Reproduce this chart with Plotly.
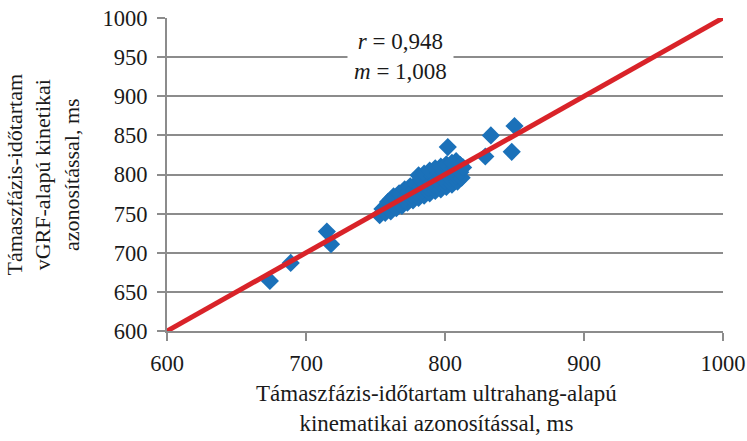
import plotly.graph_objects as go

# Data
x_vals = [674, 689, 715, 718, 829, 833, 848, 850, 802, 808,
          753, 755, 757, 758, 759, 761, 762, 761, 763,
          765, 766, 764, 767, 769, 770, 768, 771,
          773, 772, 774, 775, 777, 776, 778, 779,
          781, 780, 782, 783, 781, 785, 784, 786, 787, 785,
          789, 788, 790, 791, 789, 793, 792, 794, 795, 793,
          797, 796, 798, 799, 797, 801, 800, 802, 803, 801,
          805, 804, 806, 807, 805, 809, 808, 810, 811, 812, 811, 813]
y_vals = [664, 687, 727, 711, 823, 850, 829, 862, 835, 817,
          748, 756, 751, 759, 765, 753, 761, 768, 772,
          757, 764, 770, 776, 760, 767, 774, 781,
          764, 771, 778, 785, 767, 774, 781, 788,
          770, 777, 785, 792, 799, 773, 780, 787, 795, 801,
          776, 783, 790, 798, 805, 779, 786, 793, 801, 808,
          781, 789, 796, 803, 810, 784, 791, 799, 806, 813,
          787, 795, 802, 809, 815, 791, 798, 805, 812, 796, 803, 809]
line_x = [600, 1000]
line_y = [600, 1000]
x_ticks = [600, 700, 800, 900, 1000]
y_ticks = [600, 650, 700, 750, 800, 850, 900, 950, 1000]

FONT = "Liberation Serif, Times New Roman, serif"
GRID = "#8c8c8c"
TXT = "#1a1a1a"
tickfont = dict(family=FONT, size=22.5, color=TXT)

fig = go.Figure()
fig.add_trace(go.Scatter(
    x=x_vals, y=y_vals, mode="markers",
    marker=dict(symbol="diamond", size=14, color="#1b71b9", line=dict(width=0)),
    showlegend=False, hoverinfo="skip"))
fig.add_trace(go.Scatter(
    x=line_x, y=line_y, mode="lines",
    line=dict(color="#d92329", width=5),
    showlegend=False, hoverinfo="skip"))

fig.update_layout(
    width=747, height=441,
    margin=dict(l=167, r=24, t=18, b=110),
    paper_bgcolor="white", plot_bgcolor="white",
    font=dict(family=FONT, size=23, color=TXT),
    xaxis=dict(range=[600, 1000], tickvals=x_ticks, showgrid=False,
               zeroline=False, showline=True, linecolor=GRID, linewidth=2,
               ticks="outside", ticklen=8, tickwidth=2, tickcolor=GRID,
               tickfont=tickfont, automargin=False,
               ticklabelstandoff=3, fixedrange=True),
    yaxis=dict(range=[600, 1000], tickvals=y_ticks, showgrid=True,
               gridcolor=GRID, gridwidth=2, zeroline=False,
               showline=True, linecolor=GRID, linewidth=2,
               ticks="outside", ticklen=8, tickwidth=2, tickcolor=GRID,
               tickfont=tickfont, automargin=False,
               ticklabelstandoff=5, fixedrange=True),
    annotations=[
        dict(text="<i>r</i> = 0,948<br><i>m</i> = 1,008",
             x=768, y=951, xref="x", yref="y", showarrow=False,
             bgcolor="white", borderpad=6, xanchor="center", yanchor="middle",
             font=dict(family=FONT, size=23, color=TXT)),
        dict(text="Támaszfázis-időtartam ultrahang-alapú<br>kinematikai azonosítással, ms",
             x=(436 - 167) / 556, y=(331 - 408) / 313, xref="paper", yref="paper",
             showarrow=False, xanchor="center", yanchor="middle",
             font=dict(family=FONT, size=23, color=TXT)),
        dict(text="Támaszfázis-időtartam<br>vGRF-alapú kinetikai<br>azonosítással, ms",
             x=(42 - 167) / 556, y=0.5, xref="paper", yref="paper",
             textangle=-90, showarrow=False, xanchor="center", yanchor="middle",
             font=dict(family=FONT, size=22, color=TXT)),
    ],
)

fig.write_html("out.html")
